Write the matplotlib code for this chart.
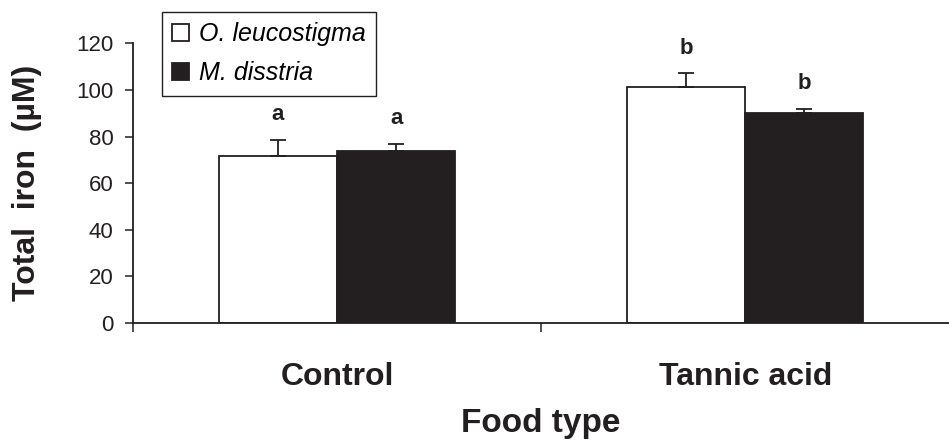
import numpy as np
from matplotlib import pyplot as plt

plt.rcParams['font.family'] = ['Liberation Sans', 'DejaVu Sans']

categories = ['Control', 'Tannic acid']
species = ['O. leucostigma', 'M. disstria']
means = {'O. leucostigma': [71.6, 101.1], 'M. disstria': [73.9, 90.2]}
errors = {'O. leucostigma': [7.0, 6.0], 'M. disstria': [2.8, 1.7]}
letters = {'O. leucostigma': ['a', 'b'], 'M. disstria': ['a', 'b']}
yticks = [0, 20, 40, 60, 80, 100, 120]

dark = '#231f20'
colors = {'O. leucostigma': 'white', 'M. disstria': dark}
offsets = {'O. leucostigma': -0.145, 'M. disstria': 0.145}
width = 0.29

fig = plt.figure(figsize=(9.49, 4.44), dpi=100)
ax = fig.add_axes([0.1401, 0.2725, 0.8601, 0.63])

x = np.arange(len(categories))
for sp in species:
    pos = x + offsets[sp]
    m = np.array(means[sp])
    e = np.array(errors[sp])
    ax.bar(pos, m, width, color=colors[sp], edgecolor=dark, linewidth=1.3,
           label=sp, zorder=2)
    ax.errorbar(pos, m, yerr=[np.zeros_like(e), e], fmt='none', ecolor=dark,
                elinewidth=1.3, capsize=5.5, capthick=1.3, zorder=3)
    for xi, top, lt in zip(pos, m + e, letters[sp]):
        ax.text(xi, top + 8.5, lt, ha='center', va='baseline',
                fontsize=16, fontweight='bold', color=dark)

ax.set_xlim(-0.5, 1.5)
ax.set_ylim(0, 120)
ax.set_yticks(yticks)
ax.tick_params(axis='y', labelsize=16, direction='out', length=6,
               width=1.1, colors=dark, pad=8)

# boundaries get tick marks, category names sit between them
ax.set_xticks([-0.5, 0.5])
ax.set_xticklabels([])
ax.set_xticks(x, minor=True)
ax.set_xticklabels(categories, minor=True, fontsize=23, fontweight='bold')
ax.tick_params(axis='x', which='major', direction='out', length=6.5,
               width=1.1, colors=dark)
ax.tick_params(axis='x', which='minor', length=0, pad=28, labelcolor=dark)

for side in ['top', 'right']:
    ax.spines[side].set_visible(False)
for side in ['left', 'bottom']:
    ax.spines[side].set_linewidth(1.3)
    ax.spines[side].set_color(dark)

ax.set_xlabel('Food type', fontsize=24, fontweight='bold', color=dark)
ax.xaxis.set_label_coords(0.5, -0.305)
ax.set_ylabel('Total  iron  (\u00b5M)', fontsize=23, fontweight='bold', color=dark)
ax.yaxis.set_label_coords(-0.112, 0.5)

leg = ax.legend(loc='upper left', bbox_to_anchor=(0.0355, 1.112), borderaxespad=0,
                fancybox=False, edgecolor=dark, framealpha=1,
                prop={'size': 18, 'style': 'italic'},
                handlelength=0.65, handleheight=0.65, handletextpad=0.4,
                labelspacing=0.6, borderpad=0.42)
leg.get_frame().set_linewidth(1.0)

fig.savefig('out.png', dpi=100)
